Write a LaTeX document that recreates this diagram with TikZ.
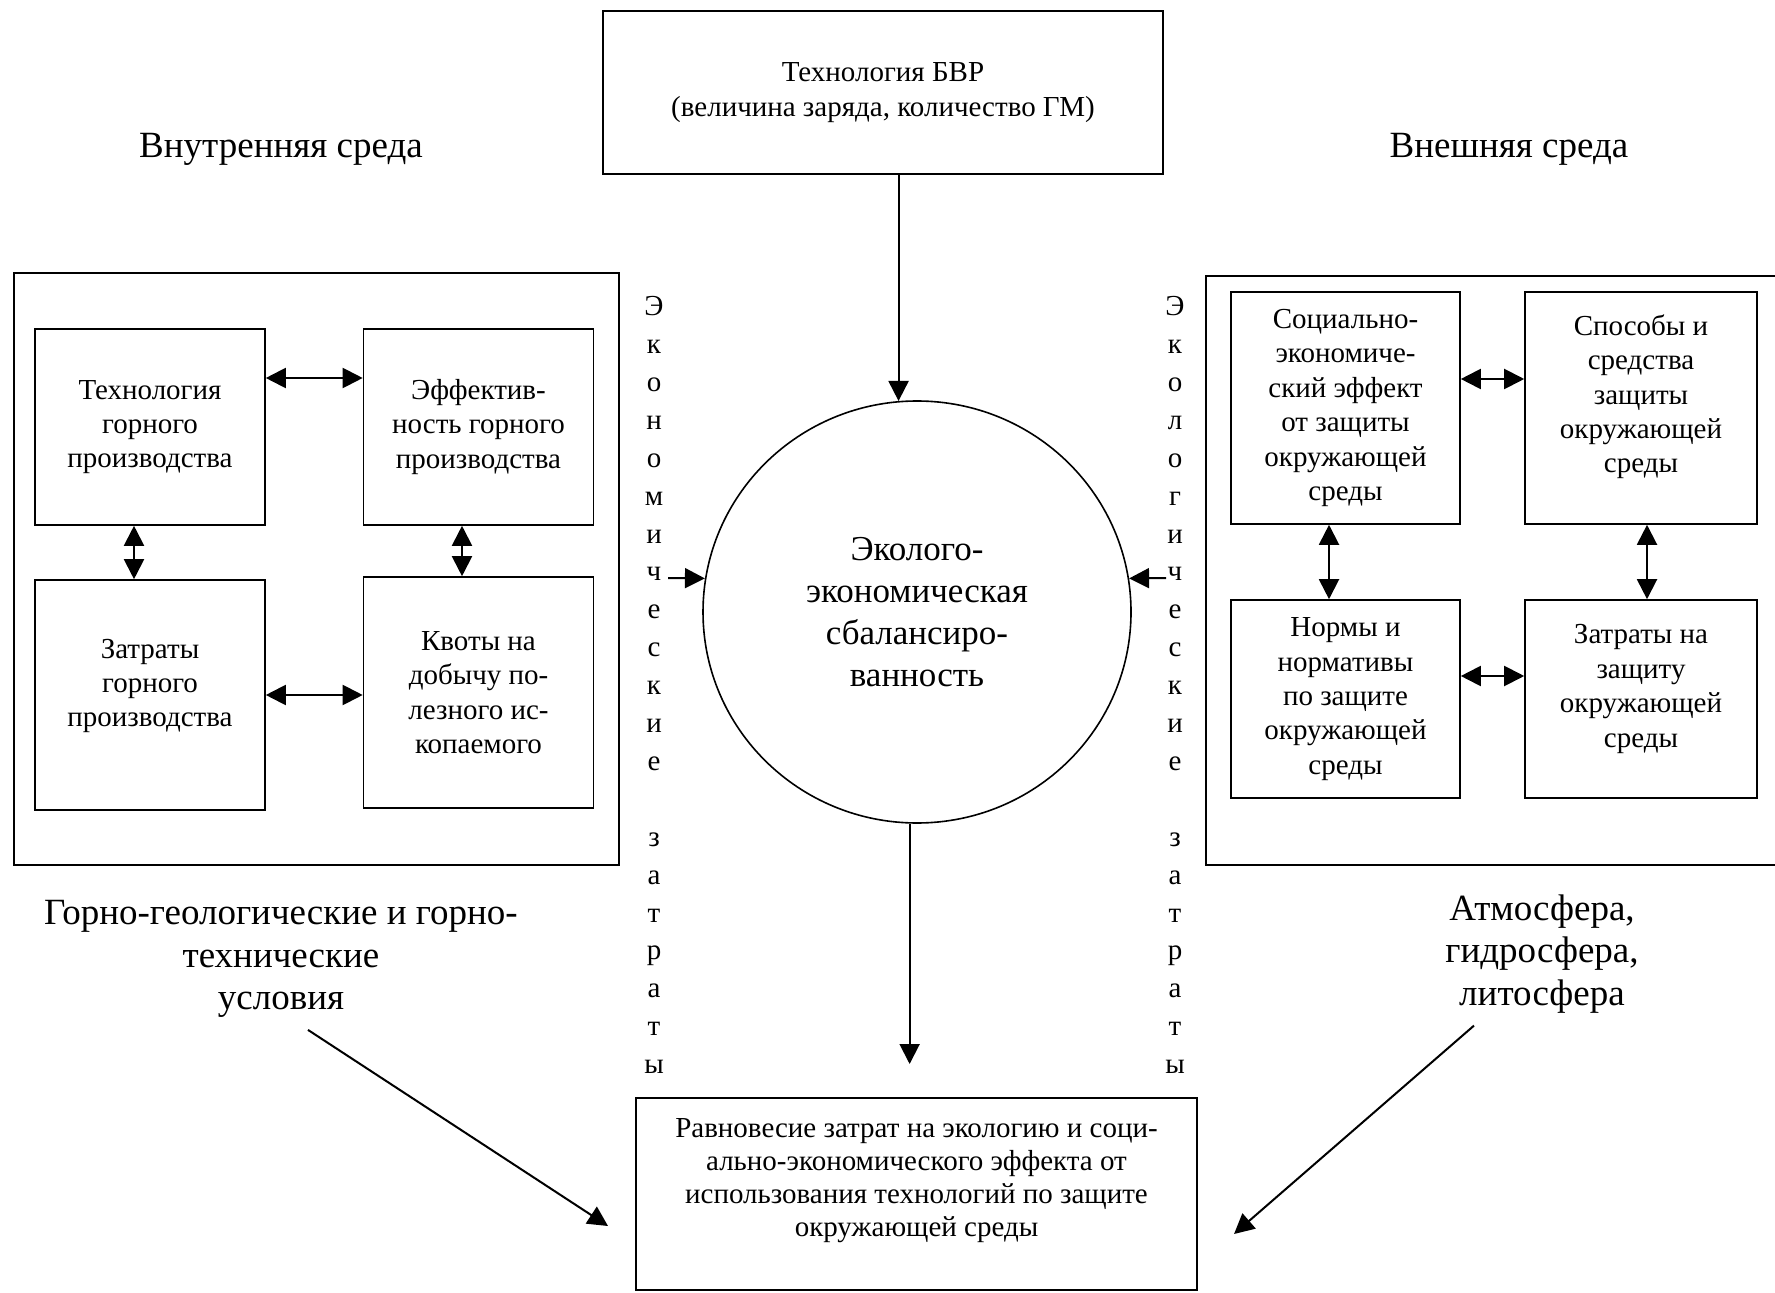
\documentclass[tikz,border=0pt]{standalone}
\usepackage{fontspec}
\setmainfont{Liberation Serif}
\usetikzlibrary{arrows.meta,shapes.geometric}

\begin{document}
\begin{tikzpicture}[
  x=0.5pt, y=-0.5pt,
  box/.style={rectangle, draw, line width=0.8pt, align=center, inner sep=2pt, font=\fontsize{14.5}{17.2}\selectfont},
  frame/.style={rectangle, draw, line width=0.8pt, inner sep=0pt},
  envtext/.style={align=center, inner sep=0pt, font=\fontsize{18.5}{21.2}\selectfont},
  vtext/.style={align=center, inner sep=0pt, font=\fontsize{14.5}{18.95}\selectfont},
  arrow/.style={-{Triangle[length=10pt,width=10pt]}, line width=1pt},
  biarrow/.style={{Triangle[length=10pt,width=10pt]}-{Triangle[length=10pt,width=10pt]}, line width=1pt}
]
  \useasboundingbox (0,0) rectangle (1775,1293);
  \clip (0,0) rectangle (1775,1293);

  % top: blasting technology
  \node[box, minimum width=280pt, minimum height=81.5pt] (bvr) at (883,92.5) {Технология БВР\\(величина заряда, количество ГМ)};

  % central balance
  \node[ellipse, draw, line width=0.8pt, minimum width=214pt, minimum height=211pt, inner sep=0pt, align=center, font=\fontsize{17.5}{21}\selectfont] (eq) at (917,612) {Эколого-\\экономическая\\сбалансиро-\\ванность};

  % environment titles
  \node[envtext] (innerlbl) at (281,149) {Внутренняя среда};
  \node[envtext] (outerlbl) at (1509,149) {Внешняя среда};

  % inner environment
  \node[frame, minimum width=302.5pt, minimum height=296pt] (inner) at (316.5,569) {};
  \node[box, minimum width=115pt, minimum height=98pt] (tech) at (150,427) {Технология\\горного\\производства};
  \node[box, minimum width=115pt, minimum height=98pt] (eff) at (478.5,427) {Эффектив-\\ность горного\\производства};
  \node[box, minimum width=115pt, minimum height=115pt] (lcost) at (150,695) {Затраты\\горного\\производства\\[-5pt]~};
  \node[box, minimum width=115pt, minimum height=115.5pt] (quota) at (478.5,692.5) {Квоты на\\добычу по-\\лезного ис-\\копаемого};

  \draw[biarrow] ([yshift=24.5pt]tech.east) -- ([yshift=24.5pt]eff.west);
  \draw[biarrow] ([xshift=-8pt]tech.south) -- ([xshift=-8pt]lcost.north);
  \draw[biarrow] ([xshift=-8.25pt]eff.south) -- ([xshift=-8.25pt]quota.north);
  \draw[biarrow] (lcost.east) -- (lcost.east -| quota.west);

  % outer environment
  \node[frame, minimum width=289.5pt, minimum height=294.5pt] (outer) at (1495.5,570.5) {};
  \node[box, minimum width=114.5pt, minimum height=116pt] (soc) at (1345.5,408) {Социально-\\экономиче-\\ский эффект\\от защиты\\окружающей\\среды};
  \node[box, minimum width=116pt, minimum height=116pt] (ways) at (1641,408) {Способы и\\средства\\защиты\\окружающей\\среды\\[-3pt]~};
  \node[box, minimum width=114.5pt, minimum height=99pt] (norms) at (1345.5,699) {Нормы и\\нормативы\\по защите\\окружающей\\среды};
  \node[box, minimum width=116pt, minimum height=99pt] (rcost) at (1641,699) {Затраты на\\защиту\\окружающей\\среды\\[-4pt]~};

  \draw[biarrow] ([yshift=14.5pt]soc.east) -- ([yshift=14.5pt]ways.west);
  \draw[biarrow] ([xshift=-8.25pt]soc.south) -- ([xshift=-8.25pt]norms.north);
  \draw[biarrow] ([xshift=3pt]ways.south) -- ([xshift=3pt]rcost.north);
  \draw[biarrow] ([yshift=11.5pt]norms.east) -- ([yshift=11.5pt]rcost.west);

  % vertical cost labels
  \node[vtext] (econtxt) at (654,685) {Э\\к\\о\\н\\о\\м\\и\\ч\\е\\с\\к\\и\\е\\~\\з\\а\\т\\р\\а\\т\\ы};
  \node[vtext] (ecoltxt) at (1175,685) {Э\\к\\о\\л\\о\\г\\и\\ч\\е\\с\\к\\и\\е\\~\\з\\а\\т\\р\\а\\т\\ы};
  \coordinate (econ) at (668,578);
  \coordinate (ecol) at (1166,578);
  \draw[arrow] (econ) -- (eq.171);
  \draw[arrow] (ecol) -- (eq.9);

  \draw[arrow] (bvr.south -| eq.95) -- (eq.95);

  % conditions
  \node[envtext] (geo) at (281,959) {Горно-геологические и горно-\\технические\\условия};
  \node[envtext] (atm) at (1542,954) {Атмосфера,\\гидросфера,\\литосфера};

  % result
  \node[frame, minimum width=280.5pt, minimum height=96pt] (bal) at (916.5,1194) {};
  \node[align=center, inner sep=0pt, font=\fontsize{14.5}{16.6}\selectfont] (baltxt) at (916.5,1180.5) {Равновесие затрат на экологию и соци-\\ально-экономического эффекта от\\использования технологий по защите\\окружающей среды};

  \coordinate (eqout) at (909,1064);
  \coordinate (ltip) at (608,1226);
  \coordinate (rtip) at (1234,1234);
  \draw[arrow] (eq.-92) -- (eq.-92 |- eqout);
  \draw[arrow] ([xshift=13.5pt,yshift=-6pt]geo.south) -- (ltip);
  \draw[arrow] ([xshift=-34pt,yshift=-6pt]atm.south) -- (rtip);
\end{tikzpicture}
\end{document}
